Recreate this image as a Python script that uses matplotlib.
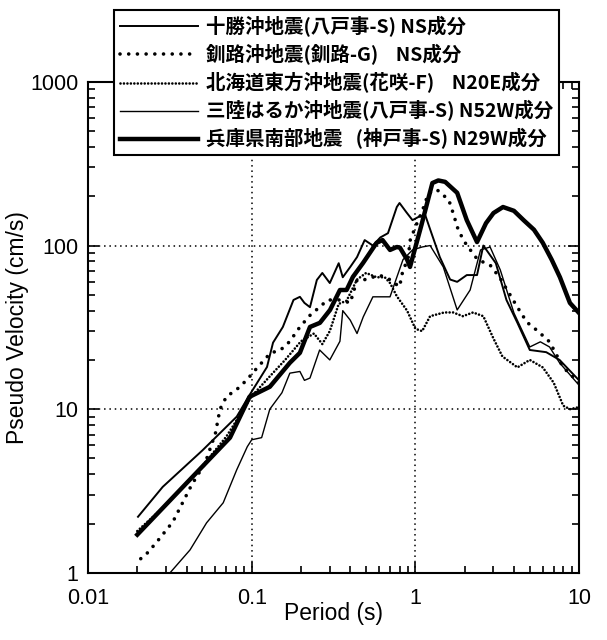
import matplotlib
matplotlib.use("Agg")
import matplotlib.pyplot as plt
from matplotlib.ticker import LogLocator, NullFormatter, FixedFormatter, FixedLocator

plt.rcParams['font.family'] = ['Liberation Sans', 'DejaVu Sans']

# 擬似速度応答スペクトル (h=5%)
# 十勝沖地震 (八戸事-S) NS
t_tokachi = [0.0202, 0.0286, 0.05, 0.081, 0.097, 0.124, 0.135, 0.155, 0.18, 0.197,
             0.21, 0.227, 0.25, 0.27, 0.3, 0.34, 0.36, 0.4, 0.44, 0.49, 0.55, 0.61,
             0.68, 0.77, 0.8, 0.88, 0.96, 1.05, 1.15, 1.25, 1.41, 1.63, 1.8, 2.06,
             2.38, 2.6, 3.1, 3.6, 4.2, 5.0, 6.3, 7.6, 10.0]
v_tokachi = [2.2, 3.35, 5.6, 9.0, 12.2, 18.1, 25.5, 31.8, 46.5, 48.6,
             44.6, 42, 61.6, 68, 59, 78, 64, 74, 85, 108, 100, 112,
             119, 172, 182, 160, 143, 150, 153, 120, 85, 62, 60, 66,
             66, 100, 78, 46.5, 33.7, 23, 22.3, 20, 15]

# 釧路沖地震 (釧路-G) NS
t_kushiro = [0.021, 0.023, 0.026, 0.033, 0.043, 0.052, 0.06, 0.064, 0.07, 0.085,
             0.097, 0.108, 0.13, 0.15, 0.17, 0.197, 0.23, 0.26, 0.29, 0.35, 0.4,
             0.44, 0.5, 0.6, 0.68, 0.8, 0.84, 0.9, 0.93, 1.0, 1.1, 1.2, 1.35, 1.6,
             1.7, 1.83, 2.0, 2.2, 2.4, 2.86, 3.3, 4.2, 4.8, 5.6, 6.6, 8.0, 10.0]
v_kushiro = [1.22, 1.32, 1.52, 2.05, 3.45, 4.7, 7.1, 10, 11.9, 13.7,
             15.8, 17.9, 22, 23, 25.8, 31.8, 38, 42, 46.5, 46.5, 44.6,
             61.6, 62, 66, 63, 56, 71, 82, 108, 130, 162, 208, 220, 190,
             158, 124, 105, 92, 82, 76, 63, 42, 34, 30, 25.8, 18, 14.5]

# 北海道東方沖地震 (花咲-F) N20E
t_hanasaki = [0.02, 0.03, 0.05, 0.07, 0.1, 0.13, 0.16, 0.2, 0.24, 0.27, 0.3, 0.34,
              0.38, 0.44, 0.5, 0.58, 0.65, 0.7, 0.77, 0.89, 1.0, 1.1, 1.23, 1.5,
              1.7, 1.95, 2.25, 2.6, 3.0, 3.4, 4.2, 5.0, 6.0, 7.0, 8.0, 8.8, 10.0]
v_hanasaki = [1.8, 2.6, 4.5, 6.8, 12, 16, 20, 26, 29, 25, 30, 44,
              46, 62, 68, 64, 64, 59, 49, 40, 31, 30, 37, 39,
              39, 37, 39, 37, 27, 21, 18, 20, 18, 14.5, 10.5, 10, 10.3]

# 三陸はるか沖地震 (八戸事-S) N52W
t_sanriku = [0.0317, 0.042, 0.053, 0.067, 0.081, 0.094, 0.1, 0.115, 0.129, 0.153,
             0.171, 0.197, 0.21, 0.227, 0.26, 0.3, 0.346, 0.36, 0.4, 0.44, 0.48,
             0.55, 0.7, 0.77, 0.84, 0.96, 1.1, 1.23, 1.48, 1.8, 2.16, 2.5, 2.86,
             3.3, 4.0, 5.0, 5.8, 6.6, 7.6, 10.0]
v_sanriku = [1.0, 1.38, 2.02, 2.68, 4.26, 5.9, 6.5, 6.7, 10, 12.6,
             16.6, 17, 15, 15.5, 23, 20, 26, 40, 35, 29, 36.6,
             48.6, 48.6, 64, 82, 94, 98, 100, 74, 40.4, 53.5, 94, 98,
             71, 38.7, 24, 25.8, 24, 19.2, 14]

# 兵庫県南部地震 (神戸事-S) N29W
t_kobe = [0.02, 0.038, 0.0737, 0.097, 0.129, 0.171, 0.197, 0.227, 0.261, 0.301,
          0.346, 0.38, 0.415, 0.479, 0.58, 0.63, 0.70, 0.77, 0.805, 0.89, 0.927,
          1.09, 1.27, 1.38, 1.52, 1.8, 2.06, 2.38, 2.7, 3.0, 3.43, 4.0, 4.58,
          5.3, 6.0, 6.8, 7.64, 8.79, 10.0]
v_kobe = [1.71, 3.35, 6.7, 11.9, 13.7, 19.2, 22.1, 31.8, 33.7, 40.4,
          53.5, 53.5, 64.3, 78.3, 104, 108, 94, 98, 97, 82, 74,
          134, 241, 250, 245, 210, 143, 105, 137, 158, 172, 163, 143,
          125, 104, 82, 64, 44.6, 38.7]

labels = [
    "十勝沖地震(八戸事-S) NS成分",
    "釧路沖地震(釧路-G)    NS成分",
    "北海道東方沖地震(花咲-F)    N20E成分",
    "三陸はるか沖地震(八戸事-S) N52W成分",
    "兵庫県南部地震   (神戸事-S) N29W成分",
]

fig = plt.figure(figsize=(6.07, 6.40), dpi=100)
ax = fig.add_axes([0.145, 0.105, 0.809, 0.767])

ax.plot(t_tokachi, v_tokachi, color='black', lw=1.4, label=labels[0])
ax.plot(t_kushiro, v_kushiro, color='black', lw=2.6, ls=(0, (0.01, 2.4)),
        dash_capstyle='round', label=labels[1])
ax.plot(t_hanasaki, v_hanasaki, color='black', lw=1.9, ls=(0, (0.01, 1.3)),
        dash_capstyle='round', label=labels[2])
ax.plot(t_sanriku, v_sanriku, color='black', lw=1.0, label=labels[3])
ax.plot(t_kobe, v_kobe, color='black', lw=3.2, label=labels[4])

ax.set_xscale('log')
ax.set_yscale('log')
ax.set_xlim(0.01, 10)
ax.set_ylim(1, 1000)

ax.xaxis.set_major_locator(FixedLocator([0.01, 0.1, 1, 10]))
ax.xaxis.set_major_formatter(FixedFormatter(['0.01', '0.1', '1', '10']))
ax.yaxis.set_major_locator(FixedLocator([1, 10, 100, 1000]))
ax.yaxis.set_major_formatter(FixedFormatter(['1', '10', '100', '1000']))
for axis in (ax.xaxis, ax.yaxis):
    axis.set_minor_locator(LogLocator(base=10, subs=range(2, 10)))
    axis.set_minor_formatter(NullFormatter())

ax.tick_params(which='both', direction='in', top=True, right=True,
               width=1.2, labelsize=15.5)
ax.tick_params(axis='x', pad=11)
ax.tick_params(axis='y', pad=7)
ax.tick_params(which='major', length=8)
ax.tick_params(which='minor', length=5)
for s in ax.spines.values():
    s.set_linewidth(1.5)

ax.grid(True, which='major', color='black', ls=(0, (1, 2.5)), lw=1.1)

ax.set_xlabel("Period (s)", fontsize=16.5, labelpad=-5)
ax.set_ylabel("Pseudo Velocity (cm/s)", fontsize=16.5, labelpad=1)

leg = fig.legend(loc='upper left', bbox_to_anchor=(0.188, 0.984),
                 borderaxespad=0,
                 prop={'family': ['Noto Sans CJK JP', 'DejaVu Sans'],
                       'size': 14, 'weight': 'bold'},
                 handlelength=4.0, handletextpad=0.4, labelspacing=0.36,
                 borderpad=0.3, fancybox=False, framealpha=1,
                 edgecolor='black')
leg.get_frame().set_linewidth(1.5)
leg.set_zorder(10)

fig.savefig("out.png", dpi=100)
